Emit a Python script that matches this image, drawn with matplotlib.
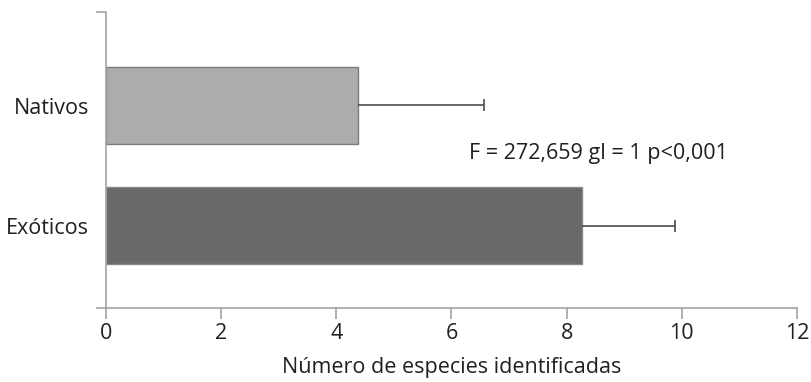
import matplotlib
matplotlib.use("Agg")
import matplotlib.pyplot as plt

plt.rcParams['font.family'] = ['Open Sans', 'DejaVu Sans']

# Mean number of identified species per group, with standard deviation
categories = ["Exóticos", "Nativos"]
means = [8.27, 4.37]
errors = [1.62, 2.19]
bar_colors = ["#69696b", "#acacae"]
edge_colors = ["#8a8a8a", "#7c7c7c"]
x_ticks = [0, 2, 4, 6, 8, 10, 12]
stat_text = "F = 272,659 gl = 1 p<0,001"
x_label = "Número de especies identificadas"

text_color = "#231f20"
axis_color = "#a3a3a3"
fs = 15.5

fig = plt.figure(figsize=(8.12, 3.82), dpi=100)
ax = fig.add_axes([106 / 812, (382 - 308) / 382, (797 - 106) / 812, 296 / 382])

ypos = list(range(len(categories)))
ax.barh(ypos, means, height=0.635, color=bar_colors, edgecolor=edge_colors,
        linewidth=1.0, zorder=2)
_, caps, _ = ax.errorbar(means, ypos, xerr=[[0] * len(errors), errors], fmt="none",
                         ecolor="#4d4d4f", elinewidth=1.2, capsize=4.5,
                         capthick=1.2, zorder=3)
# one-sided error bars: hide the caps sitting on the bar ends
caps[0].set_visible(False)

ax.set_xlim(0, 12)
ylo = -0.6875
yhi = ylo + 296 / 120
ax.set_ylim(ylo, yhi)

ax.set_xticks(x_ticks)
ax.set_xticklabels([str(t) for t in x_ticks])
ax.set_yticks(ypos)
ax.set_yticklabels(categories)
ax.set_yticks([ylo, yhi], minor=True)

ax.tick_params(axis="x", direction="out", length=8, width=1.2, color=axis_color,
               labelsize=fs, labelcolor=text_color, pad=3)
ax.tick_params(axis="y", which="major", length=0, labelsize=fs,
               labelcolor=text_color, pad=12)
ax.tick_params(axis="y", which="minor", direction="out", length=7, width=1.2,
               color=axis_color)

for side in ("top", "right"):
    ax.spines[side].set_visible(False)
for side in ("left", "bottom"):
    ax.spines[side].set_color(axis_color)
    ax.spines[side].set_linewidth(1.2)

ax.set_xlabel(x_label, fontsize=fs, color=text_color, labelpad=9)

ax.text(8.55, 0.596, stat_text, fontsize=fs, color=text_color,
        ha="center", va="center")

fig.savefig("out.png", dpi=100)
